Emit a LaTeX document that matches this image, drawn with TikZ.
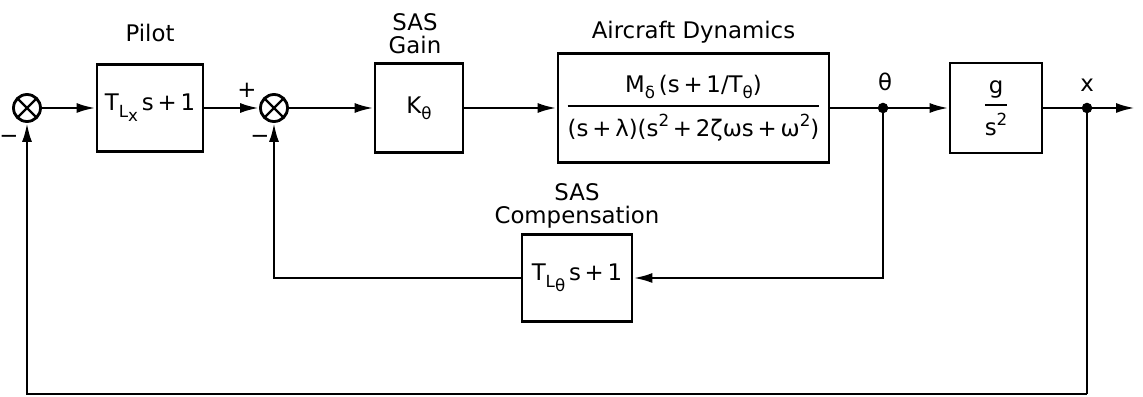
\documentclass[tikz,border=0pt]{standalone}
\usepackage{amsmath}
\usepackage{fontspec}
\setmainfont{DejaVu Sans}
\usetikzlibrary{arrows.meta,positioning}

\newcommand{\lo}[1]{\raisebox{-0.5ex}{\fontsize{9.5}{10}\selectfont #1}}
\newcommand{\hi}[1]{\raisebox{0.8ex}{\fontsize{9.5}{10}\selectfont #1}}

\tikzset{
  blk/.style={draw, line width=1.6pt, minimum width=#1, inner sep=2pt},
  sumjn/.style={circle, draw, line width=1.6pt, minimum size=5.4mm, inner sep=0pt,
    path picture={\draw[line width=1.3pt] (path picture bounding box.north west) -- (path picture bounding box.south east)
      (path picture bounding box.north east) -- (path picture bounding box.south west);}},
  arr/.style={line width=1.5pt, -{Latex[length=3.8mm,width=2mm]}},
  wire/.style={line width=1.5pt},
  lbl/.style={align=center},
}

\begin{document}
\begin{tikzpicture}[font=\fontsize{13}{15}\selectfont]
  \useasboundingbox (0,0) rectangle (22.86,7.94);

  % Forward path
  \node[sumjn] (sum1) at (0.54,5.78) {};
  \node[blk=2.12cm, minimum height=1.74cm] (pilot) at (3.00,5.78) {T\lo{L\lo{x}}\,s\,+\,1};
  \node[sumjn] (sum2) at (5.48,5.78) {};
  \node[blk=1.76cm, minimum height=1.78cm] (kgain) at (8.38,5.78) {K\lo{θ}};
  \node[blk=5.42cm, minimum height=2.18cm] (plant) at (13.87,5.78)
    {$\genfrac{}{}{1.2pt}{0}{\text{M\lo{δ}\,(s\,+\,1/T\lo{θ})}}{\text{(s\,+\,λ)(s\hi{2}\,+\,2ζωs\,+\,ω\hi{2})}}$};
  \node[blk=1.84cm, minimum height=1.80cm] (gblk) at (19.92,5.78)
    {$\genfrac{}{}{1.2pt}{0}{\text{g}}{\text{s\hi{2}}}$};

  % Feedback block
  \node[blk=2.20cm, minimum height=1.74cm] (comp) at (11.54,2.38) {T\lo{L\lo{θ}}\,s\,+\,1};

  % Pick-off points
  \coordinate (thdot) at (17.66,5.78);
  \coordinate (xdot) at (21.74,5.78);
  \coordinate (out) at (22.70,5.78);
  \coordinate (bot) at (21.74,0.06);

  % Labels
  \node[lbl] (pilotlbl) at (3.00,7.28) {Pilot};
  \node[lbl] (gainlbl) at (8.30,7.27) {SAS\\[-2pt]Gain};
  \node[lbl] (plantlbl) at (13.87,7.30) {Aircraft Dynamics};
  \node[lbl] (complbl) at (11.54,3.83) {SAS\\[-2pt]Compensation};
  \node (thlbl) at (17.70,6.30) {θ};
  \node (xlbl) at (21.74,6.24) {x};
  \node (plus) at (4.94,6.14) {+};
  \node (minus1) at (0.18,5.16) {−};
  \node (minus2) at (5.20,5.16) {−};

  % Connectors
  \draw[arr] (sum1.east) -- (pilot.west);
  \draw[arr] (pilot.east) -- (sum2.west);
  \draw[arr] (sum2.east) -- (kgain.west);
  \draw[arr] (kgain.east) -- (plant.west);
  \draw[arr] (plant.east) -- (gblk.west);
  \draw[arr] (gblk.east) -- (out);
  \draw[arr] (thdot) |- (comp.east);
  \draw[arr] (comp.west) -| (sum2.south);
  \draw[wire] (xdot) -- (bot);
  \draw[arr] (bot) -| (sum1.south);

  \fill (thdot) circle (3pt);
  \fill (xdot) circle (3pt);
\end{tikzpicture}
\end{document}
